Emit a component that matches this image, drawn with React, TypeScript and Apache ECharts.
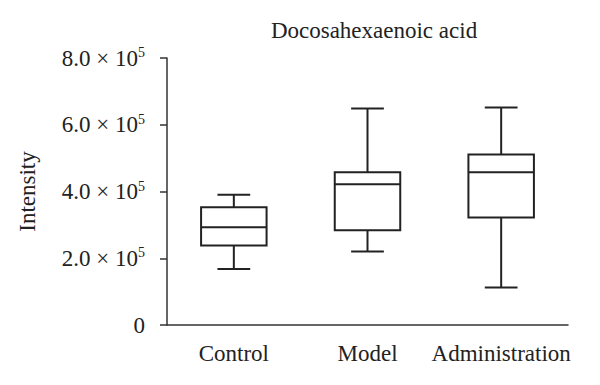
import React, { useEffect, useRef } from "react";
import * as echarts from "echarts";

const categories = ["Control", "Model", "Administration"];
// [min, Q1, median, Q3, max]
const boxValues = [
  [168000, 238000, 293000, 353000, 390000],
  [220000, 284000, 422000, 458000, 649000],
  [112000, 322000, 458000, 511000, 652000],
];
const yTicks = [0, 200000, 400000, 600000, 800000];

const FONT = "Liberation Serif";

function fmtTick(v: number): string {
  if (v === 0) return "{b|0}";
  const m = (v / 1e5).toFixed(1);
  return `{b|${m} × 10}{s|5}`;
}

export default function App() {
  const ref = useRef<HTMLDivElement>(null);
  useEffect(() => {
    if (!ref.current) return;
    const chart = echarts.init(ref.current, undefined, { renderer: "svg" });
    const data = boxValues.map((b, i) => [i, ...b]);
    chart.setOption({
      animation: false,
      backgroundColor: "#ffffff",
      title: {
        text: "Docosahexaenoic acid",
        left: 369,
        top: 14,
        textAlign: "center",
        textStyle: { fontFamily: FONT, fontSize: 23, fontWeight: "normal", color: "#222" },
      },
      grid: { left: 167, right: 32, top: 58, bottom: 60 },
      xAxis: {
        type: "category",
        data: categories,
        boundaryGap: true,
        axisLine: { lineStyle: { color: "#333", width: 1.5 } },
        axisTick: { alignWithLabel: true, length: 9, lineStyle: { color: "#333", width: 1.5 } },
        axisLabel: { interval: 0, fontFamily: FONT, fontSize: 23, color: "#222", margin: 17 },
      },
      yAxis: {
        type: "value",
        min: yTicks[0],
        max: yTicks[yTicks.length - 1],
        interval: yTicks[1] - yTicks[0],
        name: "Intensity",
        nameLocation: "middle",
        nameGap: 128,
        nameTextStyle: { fontFamily: FONT, fontSize: 23, color: "#222" },
        splitLine: { show: false },
        axisLine: { show: true, lineStyle: { color: "#333", width: 1.5 } },
        axisTick: { show: true, length: 7, lineStyle: { color: "#333", width: 1.5 } },
        axisLabel: {
          margin: 22,
          formatter: (v: number) => fmtTick(v),
          rich: {
            b: { fontFamily: FONT, fontSize: 23, color: "#222" },
            s: { fontFamily: FONT, fontSize: 14, color: "#222", verticalAlign: "top", padding: [0, 0, 11, 0] },
          },
        },
      },
      series: [
        {
          type: "custom",
          data,
          encode: { x: 0, y: [1, 2, 3, 4, 5] },
          renderItem: (params: any, api: any) => {
            const idx = api.value(0);
            const vals = [1, 2, 3, 4, 5].map((k) => api.value(k));
            const pts = vals.map((v) => api.coord([idx, v]));
            const cx = pts[0][0];
            const band = api.size([1, 0])[0];
            const hw = band * 0.245;
            const cw = hw / 2;
            const [pMin, pQ1, pMed, pQ3, pMax] = pts.map((p: number[]) => p[1]);
            const style = { stroke: "#222", lineWidth: 2, fill: "none" };
            return {
              type: "group",
              children: [
                { type: "rect", shape: { x: cx - hw, y: pQ3, width: hw * 2, height: pQ1 - pQ3 }, style: { ...style, fill: "#fff" } },
                { type: "line", shape: { x1: cx - hw, y1: pMed, x2: cx + hw, y2: pMed }, style },
                { type: "line", shape: { x1: cx, y1: pQ3, x2: cx, y2: pMax }, style },
                { type: "line", shape: { x1: cx, y1: pQ1, x2: cx, y2: pMin }, style },
                { type: "line", shape: { x1: cx - cw, y1: pMax, x2: cx + cw, y2: pMax }, style },
                { type: "line", shape: { x1: cx - cw, y1: pMin, x2: cx + cw, y2: pMin }, style },
              ],
            };
          },
        },
      ],
    });
    return () => chart.dispose();
  }, []);
  return <div ref={ref} style={{ width: 600, height: 385, margin: -8 }} />;
}
